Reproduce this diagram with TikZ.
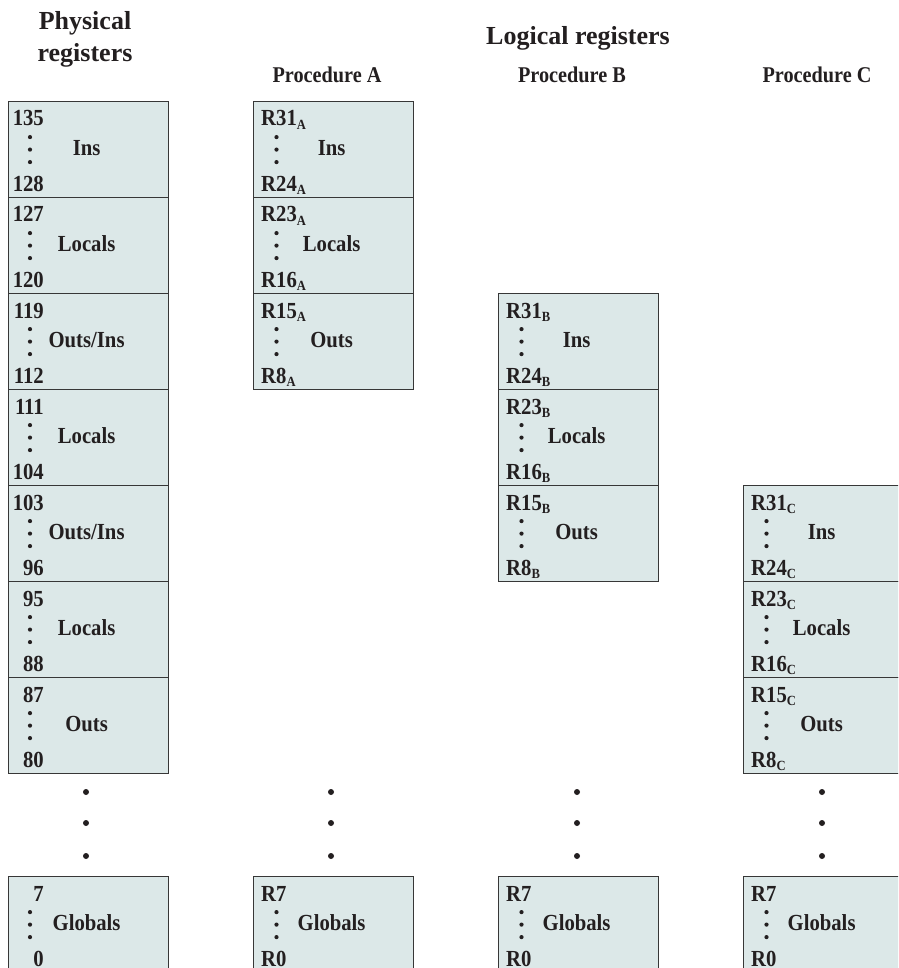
\documentclass[tikz,border=0pt]{standalone}
\usepackage{fontspec}
\setmainfont{Liberation Serif}
\newfontfamily\cfont{Liberation Serif}[FakeStretch=0.9]
\usetikzlibrary{calc}
\definecolor{boxfill}{RGB}{220,232,232}
\definecolor{ink}{RGB}{35,31,32}
\definecolor{edge}{RGB}{55,55,55}
\tikzset{
  regbox/.style={draw=edge, line width=1.2pt, fill=boxfill, minimum width=160pt,
    minimum height=96pt, inner sep=0pt, anchor=north west},
  numlbl/.style={font=\cfont\bfseries\fontsize{23}{23}\selectfont, text=ink, inner sep=0pt},
  midlbl/.style={font=\cfont\bfseries\fontsize{23}{23}\selectfont, text=ink, inner sep=0pt, anchor=base},
  bigtitle/.style={font=\bfseries\fontsize{26}{32}\selectfont, text=ink, inner sep=0pt, align=center},
  prochead/.style={font=\cfont\bfseries\fontsize{22.5}{24}\selectfont, text=ink, inner sep=0pt, anchor=base},
  bigdot/.style={fill=ink},
}
\newcommand\sbs[1]{\raisebox{-3.5pt}{\fontsize{14}{14}\selectfont #1}}
\newcommand\boxdots[2]{%
  \foreach \dy in {-12.5,0,12.5}{\fill[ink] ([xshift=#2pt,yshift=\dy pt]#1.west) circle[radius=2.1pt];}}
% physical box: name, top, top label, bottom label, middle text
\newcommand\physbox[5]{%
  \node[regbox] (#1) at (8,#2) {};
  \node[numlbl, anchor=base east] (#1-t) at ([xshift=36pt,yshift=-25pt]#1.north west) {#3};
  \node[numlbl, anchor=base east] (#1-b) at ([xshift=36pt,yshift=7pt]#1.south west) {#4};
  \node[midlbl] (#1-m) at ([xshift=-2pt,yshift=-6pt]#1.center) {#5};
  \boxdots{#1}{22}}
% logical box: name, left, top, top label, bottom label, middle text
\newcommand\logbox[6]{%
  \node[regbox] (#1) at (#2,#3) {};
  \node[numlbl, anchor=base west] (#1-t) at ([xshift=8pt,yshift=-25pt]#1.north west) {#4};
  \node[numlbl, anchor=base west] (#1-b) at ([xshift=8pt,yshift=7pt]#1.south west) {#5};
  \node[midlbl] (#1-m) at ([xshift=-2pt,yshift=-6pt]#1.center) {#6};
  \boxdots{#1}{23.5}}
\begin{document}
\begin{tikzpicture}[x=1pt,y=-1pt]
\useasboundingbox (0,0) rectangle (898,968);
\clip (0,0) rectangle (898,968);
% titles
\node[bigtitle, anchor=north] (phys) at (85,11.5) {Physical\\registers};
\node[bigtitle, anchor=base] (logi) at (578,45) {Logical registers};
\node[prochead] (pA) at (327,83) {Procedure A};
\node[prochead] (pB) at (572,83) {Procedure B};
\node[prochead] (pC) at (817,83) {Procedure C};
% physical registers
\physbox{p1}{101}{135}{128}{Ins}
\physbox{p2}{197}{127}{120}{Locals}
\physbox{p3}{293}{119}{112}{Outs/Ins}
\physbox{p4}{389}{111}{104}{Locals}
\physbox{p5}{485}{103}{96}{Outs/Ins}
\physbox{p6}{581}{95}{88}{Locals}
\physbox{p7}{677}{87}{80}{Outs}
\physbox{pg}{876}{7}{0}{Globals}
% procedure A
\logbox{a1}{253}{101}{R31\sbs{A}}{R24\sbs{A}}{Ins}
\logbox{a2}{253}{197}{R23\sbs{A}}{R16\sbs{A}}{Locals}
\logbox{a3}{253}{293}{R15\sbs{A}}{R8\sbs{A}}{Outs}
\logbox{ag}{253}{876}{R7}{R0}{Globals}
% procedure B
\logbox{b1}{498}{293}{R31\sbs{B}}{R24\sbs{B}}{Ins}
\logbox{b2}{498}{389}{R23\sbs{B}}{R16\sbs{B}}{Locals}
\logbox{b3}{498}{485}{R15\sbs{B}}{R8\sbs{B}}{Outs}
\logbox{bg}{498}{876}{R7}{R0}{Globals}
% procedure C
\logbox{c1}{743}{485}{R31\sbs{C}}{R24\sbs{C}}{Ins}
\logbox{c2}{743}{581}{R23\sbs{C}}{R16\sbs{C}}{Locals}
\logbox{c3}{743}{677}{R15\sbs{C}}{R8\sbs{C}}{Outs}
\logbox{cg}{743}{876}{R7}{R0}{Globals}
% ellipsis dots between columns
\foreach \cx in {86,331,577,822}{
  \foreach \cy in {792,823,856}{\fill[bigdot] (\cx,\cy) circle[radius=3pt];}}
\end{tikzpicture}
\end{document}
